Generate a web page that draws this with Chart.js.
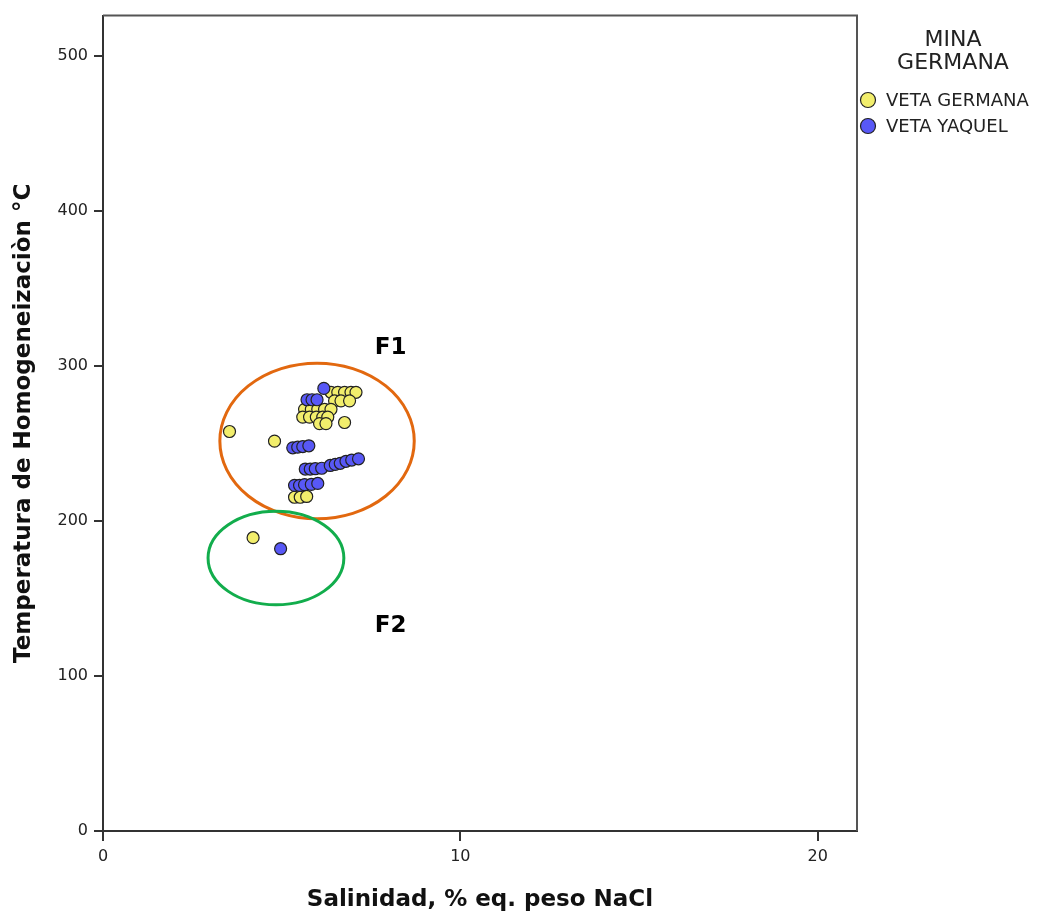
<!DOCTYPE html>
<html>
<head>
<meta charset="utf-8">
<script src="https://cdn.jsdelivr.net/npm/chart.js@4.4.1/dist/chart.umd.min.js"></script>
<style>
  html, body { margin: 0; padding: 0; background: #ffffff; }
  canvas { display: block; }
</style>
</head>
<body>
<canvas id="c" width="1042" height="914"></canvas>
<script>
// ---- data ----
const germanaX = [3.54, 4.80, 4.20, 5.36, 5.52, 5.70,
  6.38, 6.57, 6.76, 6.94, 7.08,
  6.48, 6.66, 6.90,
  5.64, 5.83, 6.01, 6.20, 6.38,
  5.59, 5.78, 5.97, 6.15, 6.29,
  6.06, 6.24, 6.76];
const germanaY = [257.7, 251.5, 189.2, 215.3, 215.3, 215.8,
  283, 283, 283, 283, 283,
  277.5, 277.5, 277.5,
  272, 272, 272, 272, 272,
  267, 267, 267, 267, 267,
  262.8, 262.8, 263.5];

const yaquelX = [4.97, 6.18, 5.71, 5.85, 5.99,
  5.31, 5.45, 5.59, 5.76,
  5.66, 5.80, 5.94, 6.12, 6.36, 6.50, 6.64, 6.80, 6.96, 7.15,
  5.36, 5.50, 5.64, 5.83, 6.01];
const yaquelY = [182.1, 285.5, 278.2, 278.2, 278.2,
  247.2, 247.6, 248, 248.5,
  233.5, 233.5, 233.7, 234, 235.8, 236.5, 237.2, 238.5, 239.3, 240.1,
  223, 223, 223.4, 223.6, 224.2];

const seriesNames = ['VETA GERMANA', 'VETA YAQUEL'];
const legendTitle = ['MINA', 'GERMANA'];
const xTicks = [0, 10, 20];
const yTicks = [0, 100, 200, 300, 400, 500];

// annotation ellipses (data units) and labels
const groupNames = ['F1', 'F2'];
const groupCx = [5.99, 4.84];
const groupCy = [251.6, 176.1];
const groupRx = [2.72, 1.90];
const groupRy = [50.2, 30.2];
const groupLabelX = [8.05, 8.05];
const groupLabelY = [311.5, 132.5];

// ---- styles ----
const FONT = 'DejaVu Sans';
const colYellow = '#F2EE6C';
const colBlue = '#5858F6';
const ellipseColors = ['#E2680F', '#12AD4C'];

const toPts = (xs, ys) => xs.map((x, i) => ({ x: x, y: ys[i] }));

const extras = {
  id: 'extras',
  afterDatasetsDraw(chart) {
    const { ctx, scales: { x, y } } = chart;
    ctx.save();
    for (let i = 0; i < groupNames.length; i++) {
      const cx = x.getPixelForValue(groupCx[i]);
      const cy = y.getPixelForValue(groupCy[i]);
      const rx = x.getPixelForValue(groupCx[i] + groupRx[i]) - cx;
      const ry = cy - y.getPixelForValue(groupCy[i] + groupRy[i]);
      ctx.beginPath();
      ctx.ellipse(cx, cy, rx, ry, 0, 0, Math.PI * 2);
      ctx.lineWidth = 3;
      ctx.strokeStyle = ellipseColors[i];
      ctx.stroke();
      ctx.fillStyle = '#000';
      ctx.font = 'bold 23px "' + FONT + '"';
      ctx.textAlign = 'center';
      ctx.textBaseline = 'middle';
      ctx.fillText(groupNames[i], x.getPixelForValue(groupLabelX[i]), y.getPixelForValue(groupLabelY[i]));
    }
    ctx.restore();
  },
  afterDraw(chart) {
    const { ctx, chartArea: a } = chart;
    ctx.save();
    ctx.strokeStyle = '#555';
    ctx.lineWidth = 2;
    ctx.beginPath();
    ctx.moveTo(a.left, a.top);
    ctx.lineTo(a.right, a.top);
    ctx.lineTo(a.right, a.bottom);
    ctx.stroke();
    const lx = a.right + 96;
    ctx.fillStyle = '#222';
    ctx.font = '22px "' + FONT + '"';
    ctx.textAlign = 'center';
    ctx.textBaseline = 'middle';
    ctx.fillText(legendTitle[0], lx, 40);
    ctx.fillText(legendTitle[1], lx, 63);
    const cols = [colYellow, colBlue];
    ctx.font = '18px "' + FONT + '"';
    ctx.textAlign = 'left';
    for (let i = 0; i < seriesNames.length; i++) {
      const yy = 100 + i * 26;
      ctx.beginPath();
      ctx.arc(a.right + 11, yy, 7.5, 0, Math.PI * 2);
      ctx.fillStyle = cols[i];
      ctx.fill();
      ctx.lineWidth = 1.2;
      ctx.strokeStyle = '#222';
      ctx.stroke();
      ctx.fillStyle = '#222';
      ctx.fillText(seriesNames[i], a.right + 29, yy + 1);
    }
    ctx.restore();
  }
};

new Chart(document.getElementById('c'), {
  type: 'scatter',
  data: {
    datasets: [
      {
        label: seriesNames[0],
        data: toPts(germanaX, germanaY),
        backgroundColor: colYellow,
        borderColor: '#222',
        borderWidth: 1.2,
        pointRadius: 6,
        order: 1
      },
      {
        label: seriesNames[1],
        data: toPts(yaquelX, yaquelY),
        backgroundColor: colBlue,
        borderColor: '#222',
        borderWidth: 1.2,
        pointRadius: 6,
        order: 0
      }
    ]
  },
  options: {
    responsive: false,
    animation: false,
    devicePixelRatio: 1,
    layout: { padding: { top: 14, right: 185, left: 0, bottom: 0 } },
    plugins: { legend: { display: false }, tooltip: { enabled: false } },
    scales: {
      x: {
        type: 'linear',
        position: 'bottom',
        min: 0,
        max: 21.1,
        afterBuildTicks: s => { s.ticks = xTicks.map(v => ({ value: v })); },
        afterFit: s => { s.height = 83; },
        grid: { display: true, drawOnChartArea: false, drawTicks: true, tickLength: 10, color: '#333', lineWidth: 2 },
        border: { display: true, color: '#333', width: 2 },
        ticks: { font: { family: FONT, size: 16 }, color: '#222', padding: 6, maxRotation: 0 },
        title: {
          display: true,
          text: 'Salinidad, % eq. peso NaCl',
          font: { family: FONT, size: 23, weight: 'bold' },
          color: '#111',
          padding: { top: 0, bottom: 0 }
        }
      },
      y: {
        type: 'linear',
        position: 'left',
        min: 0,
        max: 526,
        afterBuildTicks: s => { s.ticks = yTicks.map(v => ({ value: v })); },
        afterFit: s => { s.width = 103; },
        grid: { display: true, drawOnChartArea: false, drawTicks: true, tickLength: 9, color: '#333', lineWidth: 2 },
        border: { display: true, color: '#333', width: 2 },
        ticks: { font: { family: FONT, size: 16 }, color: '#222', padding: 6 },
        title: {
          display: true,
          text: 'Temperatura de Homogeneizaciòn °C',
          font: { family: FONT, size: 23, weight: 'bold' },
          color: '#111',
          padding: { top: 10, bottom: 0 }
        }
      }
    }
  },
  plugins: [extras]
});
</script>
</body>
</html>
